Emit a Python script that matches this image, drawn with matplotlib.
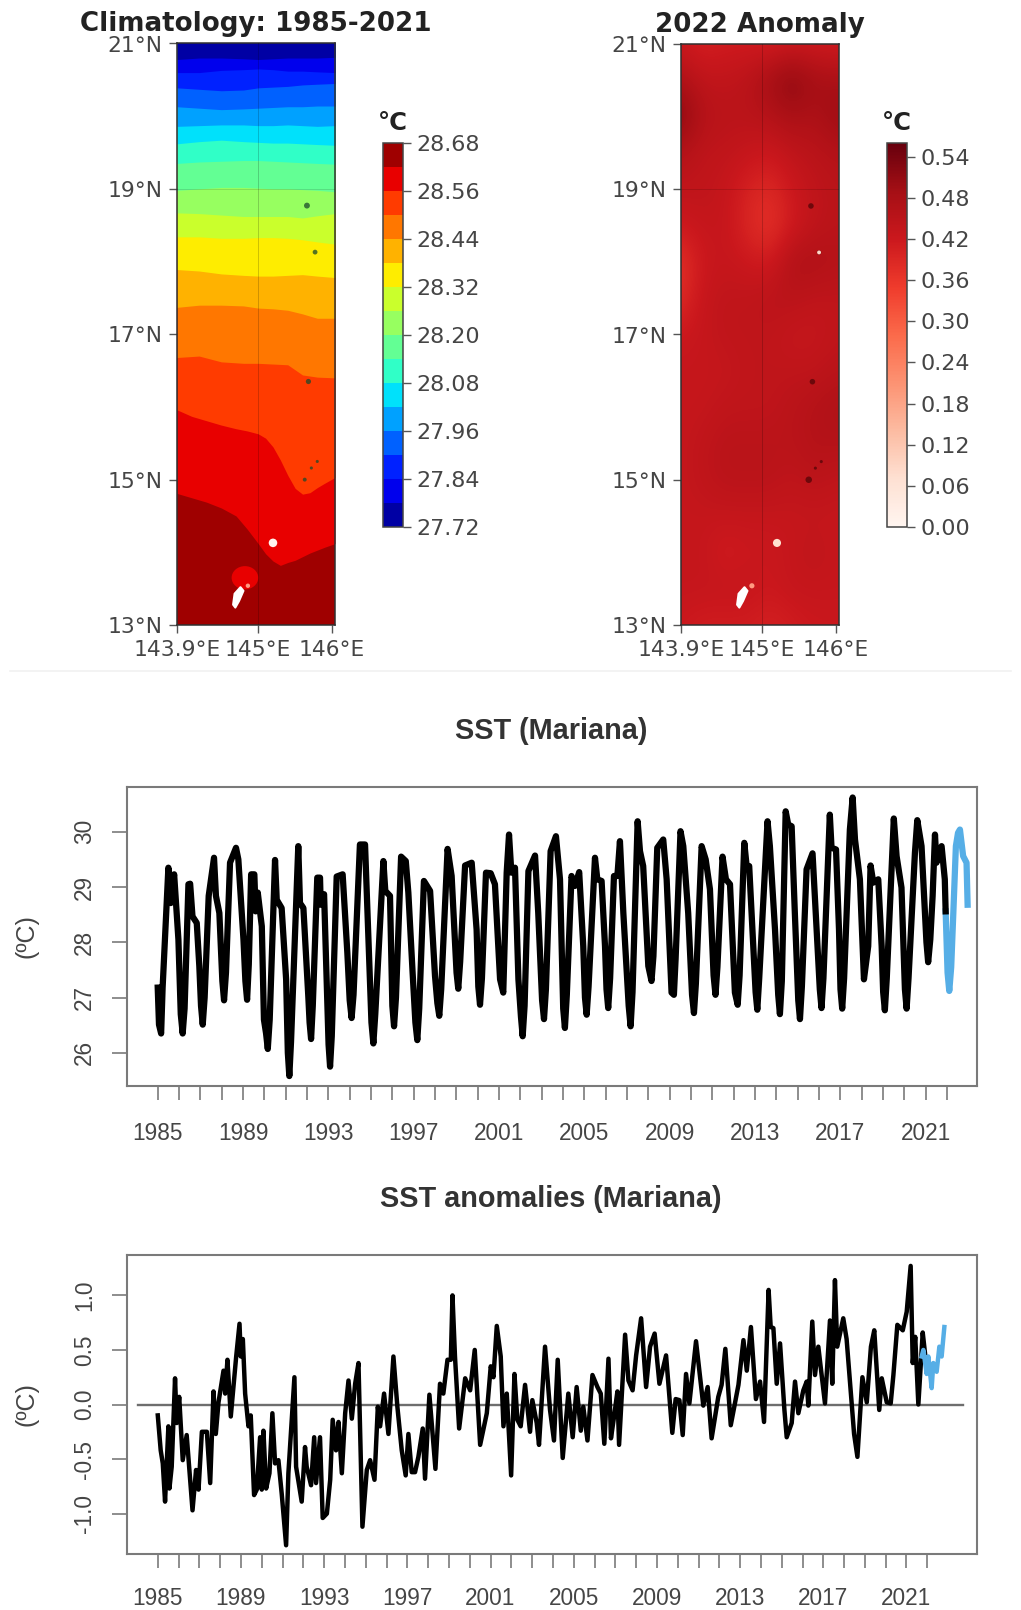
import numpy as np
import matplotlib
matplotlib.use("Agg")
import matplotlib.pyplot as plt
from matplotlib.cm import ScalarMappable
from matplotlib.colors import BoundaryNorm, ListedColormap, Normalize
from matplotlib.lines import Line2D
from matplotlib.patches import Ellipse, Polygon

W, H = 1021, 1610

# --- map data ---
lat_ticks = [13, 15, 17, 19, 21]
lat_labels = ["13°N", "15°N", "17°N", "19°N", "21°N"]
lon_ticks = [143.9, 145, 146]
lon_labels = ["143.9°E", "145°E", "146°E"]

clim_levels = [27.72, 27.78, 27.84, 27.90, 27.96, 28.02, 28.08, 28.14, 28.20,
               28.26, 28.32, 28.38, 28.44, 28.50, 28.56, 28.62, 28.68]
clim_ticks = [27.72, 27.84, 27.96, 28.08, 28.20, 28.32, 28.44, 28.56, 28.68]

# the two warmest isotherms bend a lot, so they get a finer longitude list
warm_iso_lon = [143.9, 144.1, 144.3, 144.5, 144.7, 144.85, 145.0, 145.1, 145.2,
                145.3, 145.4, 145.5, 145.6, 145.7, 145.8, 145.9, 146.04]
iso_2862 = [14.81, 14.75, 14.69, 14.61, 14.50, 14.32, 14.12, 13.98, 13.88,
            13.82, 13.86, 13.89, 13.94, 13.99, 14.03, 14.07, 14.12]
iso_2856 = [15.96, 15.87, 15.81, 15.75, 15.70, 15.67, 15.63, 15.57, 15.45,
            15.27, 15.06, 14.88, 14.80, 14.82, 14.89, 14.95, 15.03]

# latitude of the other isotherms, warmest first, along iso_lon
iso_lon = [143.9, 144.2, 144.5, 144.8, 145.0, 145.2, 145.4, 145.6, 145.8, 146.04]
iso_temp = [28.50, 28.44, 28.38, 28.32, 28.26, 28.20, 28.14,
            28.08, 28.02, 27.96, 27.90, 27.84, 27.78]
iso_lat = [
    [16.68, 16.70, 16.62, 16.60, 16.60, 16.59, 16.58, 16.44, 16.41, 16.40],
    [17.37, 17.40, 17.40, 17.39, 17.36, 17.35, 17.33, 17.28, 17.22, 17.22],
    [17.89, 17.87, 17.83, 17.81, 17.80, 17.80, 17.81, 17.82, 17.80, 17.78],
    [18.34, 18.34, 18.32, 18.32, 18.33, 18.33, 18.32, 18.30, 18.27, 18.24],
    [18.67, 18.66, 18.64, 18.62, 18.62, 18.62, 18.62, 18.60, 18.63, 18.66],
    [18.98, 19.00, 19.02, 19.02, 19.01, 19.00, 19.00, 18.99, 18.98, 18.96],
    [19.35, 19.37, 19.38, 19.39, 19.39, 19.38, 19.37, 19.36, 19.35, 19.34],
    [19.62, 19.65, 19.67, 19.65, 19.64, 19.63, 19.63, 19.62, 19.61, 19.60],
    [19.86, 19.87, 19.88, 19.88, 19.87, 19.87, 19.88, 19.87, 19.86, 19.87],
    [20.13, 20.11, 20.09, 20.10, 20.11, 20.12, 20.13, 20.13, 20.14, 20.14],
    [20.39, 20.37, 20.35, 20.36, 20.39, 20.40, 20.41, 20.43, 20.44, 20.45],
    [20.60, 20.60, 20.63, 20.64, 20.65, 20.64, 20.62, 20.62, 20.61, 20.60],
    [20.78, 20.80, 20.80, 20.79, 20.78, 20.79, 20.80, 20.80, 20.80, 20.81],
]

anom_ticks = [0.00, 0.06, 0.12, 0.18, 0.24, 0.30, 0.36, 0.42, 0.48, 0.54]
anom_lat = [21.0, 20.5, 20.0, 19.5, 19.0, 18.5, 18.0, 17.5, 17.0, 16.5, 16.0,
            15.5, 15.0, 14.5, 14.0, 13.5, 13.0]
anom_lon = [143.9, 144.2, 144.5, 144.8, 145.1, 145.4, 145.7, 146.0]
anom_grid = [
    [.42, .40, .41, .41, .40, .41, .41, .41],
    [.47, .44, .44, .45, .49, .53, .49, .48],
    [.53, .46, .45, .45, .46, .48, .47, .50],
    [.46, .44, .44, .43, .42, .44, .45, .46],
    [.44, .44, .43, .40, .385, .42, .44, .45],
    [.42, .43, .43, .39, .365, .41, .44, .45],
    [.37, .42, .43, .42, .41, .47, .47, .46],
    [.38, .43, .44, .44, .45, .45, .44, .44],
    [.42, .43, .44, .44, .44, .43, .43, .44],
    [.43, .43, .43, .44, .44, .44, .44, .45],
    [.43, .43, .44, .44, .44, .45, .46, .47],
    [.43, .44, .45, .45, .45, .45, .46, .46],
    [.43, .44, .45, .45, .45, .44, .45, .44],
    [.43, .43, .43, .43, .43, .43, .43, .43],
    [.43, .43, .41, .42, .42, .43, .44, .43],
    [.43, .43, .43, .43, .42, .43, .43, .43],
    [.42, .41, .41, .41, .40, .41, .42, .42],
]

# islands: warm patch near Guam, Guam outline, small islands
warm_lon, warm_lat = 144.82, 13.65
guam_lon = [144.66, 144.68, 144.76, 144.80, 144.74, 144.69]
guam_lat = [13.28, 13.43, 13.52, 13.47, 13.33, 13.24]
dark_lon = [145.66, 145.77, 145.68, 145.63, 145.72, 145.80]
dark_lat = [18.77, 18.13, 16.35, 15.00, 15.16, 15.25]
white_lon = [145.20, 144.86]
white_lat = [14.13, 13.54]

# --- time series, turning points ---
sst_years = [
    1985.00, 1985.06, 1985.16, 1985.23, 1985.50, 1985.61, 1985.77, 1985.97,
    1986.08, 1986.17, 1986.26, 1986.44, 1986.52, 1986.63, 1986.83, 1986.95,
    1987.03, 1987.11, 1987.20, 1987.39, 1987.64, 1987.73, 1987.89,
    1988.03, 1988.11, 1988.20, 1988.39, 1988.67, 1988.78, 1989.02,
    1989.11, 1989.19, 1989.27, 1989.38, 1989.53, 1989.59, 1989.69, 1989.88, 1989.98,
    1990.08, 1990.16, 1990.25, 1990.50, 1990.58, 1990.81, 1991.02,
    1991.10, 1991.17, 1991.25, 1991.59, 1991.67, 1991.83, 1992.06,
    1992.12, 1992.19, 1992.27, 1992.48, 1992.61, 1992.64, 1992.80, 1992.95,
    1993.01, 1993.08, 1993.16, 1993.39, 1993.67, 1993.89,
    1994.00, 1994.09, 1994.18, 1994.48, 1994.72, 1994.88,
    1995.02, 1995.11, 1995.20, 1995.58, 1995.67, 1995.89,
    1996.00, 1996.08, 1996.17, 1996.41, 1996.63, 1996.75, 1996.95,
    1997.08, 1997.17, 1997.26, 1997.48, 1997.77, 1998.00,
    1998.11, 1998.20, 1998.29, 1998.59, 1998.78,
    1999.01, 1999.09, 1999.18, 1999.41, 1999.72, 1999.95,
    2000.03, 2000.11, 2000.20, 2000.39, 2000.61, 2000.81, 2001.05, 2001.20, 2001.36,
    2001.47, 2001.58, 2001.75, 2001.91,
    2002.03, 2002.11, 2002.20, 2002.38, 2002.69, 2002.84,
    2003.02, 2003.11, 2003.20, 2003.42, 2003.67, 2003.86,
    2004.01, 2004.09, 2004.18, 2004.40, 2004.56, 2004.76, 2004.95,
    2005.03, 2005.11, 2005.20, 2005.50, 2005.61, 2005.81, 2005.97,
    2006.04, 2006.12, 2006.21, 2006.39, 2006.55, 2006.67, 2006.83,
    2007.08, 2007.17, 2007.26, 2007.50, 2007.61, 2007.76, 2008.00, 2008.15, 2008.24,
    2008.42, 2008.70, 2008.86, 2009.09, 2009.20, 2009.28, 2009.51, 2009.64, 2009.87,
    2010.05, 2010.14, 2010.23, 2010.50, 2010.69, 2010.89,
    2011.06, 2011.15, 2011.24, 2011.48, 2011.64, 2011.83, 2012.06, 2012.19, 2012.28,
    2012.50, 2012.61, 2012.73, 2012.92,
    2013.03, 2013.11, 2013.20, 2013.59, 2013.70, 2013.94,
    2014.09, 2014.17, 2014.26, 2014.44, 2014.56, 2014.72, 2014.87,
    2015.03, 2015.11, 2015.20, 2015.42, 2015.70, 2015.89,
    2016.04, 2016.12, 2016.21, 2016.51, 2016.59, 2016.80, 2016.94,
    2017.01, 2017.09, 2017.18, 2017.45, 2017.58, 2017.69, 2017.92, 2018.11, 2018.31,
    2018.42, 2018.55, 2018.78, 2018.94, 2019.01, 2019.09, 2019.18, 2019.51, 2019.64, 2019.87,
    2020.03, 2020.11, 2020.20, 2020.50, 2020.61, 2020.81,
    2021.04, 2021.12, 2021.22, 2021.33, 2021.44, 2021.51, 2021.75, 2021.90, 2021.94,
]
sst_values = [
    27.18, 26.51, 26.35, 27.18, 29.35, 28.71, 29.23, 28.05,
    26.70, 26.35, 26.80, 29.05, 29.06, 28.47, 28.35, 27.57,
    26.85, 26.51, 27.00, 28.84, 29.53, 28.84, 28.53,
    27.30, 26.95, 27.45, 29.44, 29.71, 29.50, 28.05,
    27.30, 26.96, 27.60, 29.23, 29.23, 28.56, 28.90, 28.29, 26.60,
    26.35, 26.07, 26.60, 29.49, 28.77, 28.62, 27.33,
    26.00, 25.58, 26.20, 29.74, 28.71, 28.62, 27.02,
    26.55, 26.25, 26.85, 29.17, 29.17, 28.68, 28.87, 26.96,
    26.15, 25.75, 26.30, 29.19, 29.23, 27.81,
    26.95, 26.63, 27.05, 29.77, 29.77, 28.05,
    26.55, 26.17, 26.70, 29.47, 28.93, 28.84,
    26.85, 26.48, 27.00, 29.55, 29.47, 28.90, 27.45,
    26.55, 26.23, 26.80, 29.11, 28.93, 27.39,
    26.90, 26.67, 27.15, 29.69, 29.20,
    27.45, 27.16, 27.65, 29.39, 29.44, 28.23,
    27.20, 26.87, 27.35, 29.26, 29.25, 29.05, 27.33, 27.09, 29.26,
    29.95, 29.26, 29.35, 27.33,
    26.65, 26.30, 26.85, 29.29, 29.57, 28.53,
    26.95, 26.61, 27.15, 29.65, 29.92, 29.14,
    26.80, 26.45, 27.05, 29.20, 29.02, 29.27, 27.93,
    27.00, 26.69, 27.20, 29.53, 29.14, 29.11, 27.93,
    27.15, 26.81, 27.35, 29.20, 29.20, 29.83, 28.53,
    26.85, 26.48, 27.10, 30.19, 29.65, 29.38, 27.57, 27.30, 27.75,
    29.71, 29.86, 29.14, 27.09, 27.05, 27.70, 30.01, 29.74, 28.53,
    27.05, 26.72, 27.25, 29.74, 29.50, 28.96,
    27.40, 27.05, 27.55, 29.55, 29.14, 29.05, 27.09, 26.87, 27.40,
    29.80, 29.38, 29.38, 27.93,
    27.10, 26.78, 27.35, 30.19, 29.74, 28.23,
    27.05, 26.70, 27.30, 30.37, 30.13, 30.10, 28.53,
    26.95, 26.61, 27.20, 29.32, 29.61, 28.23,
    27.15, 26.81, 27.35, 30.31, 29.71, 29.68, 28.23,
    27.15, 26.80, 27.35, 30.04, 30.62, 29.86, 29.14, 27.33, 27.93,
    29.39, 29.08, 29.14, 27.93, 27.10, 26.77, 27.35, 30.24, 29.56, 28.99,
    27.15, 26.80, 27.35, 29.62, 30.21, 29.74,
    28.00, 27.64, 28.05, 28.84, 29.95, 29.44, 29.74, 29.14, 28.56,
]
sst22_years = [2021.94, 2022.03, 2022.11, 2022.20, 2022.30, 2022.42, 2022.52, 2022.61, 2022.76, 2022.92, 2022.97]
sst22_values = [28.56, 27.45, 27.12, 27.55, 28.53, 29.74, 29.98, 30.04, 29.56, 29.44, 28.68]

anom_years = [
    1985.00, 1985.14, 1985.24, 1985.35, 1985.51, 1985.56, 1985.67, 1985.83, 1985.91,
    1986.03, 1986.20, 1986.39, 1986.67, 1986.84, 1986.96, 1987.12, 1987.36, 1987.52,
    1987.68, 1987.79, 1987.92, 1988.16, 1988.24, 1988.35, 1988.51, 1988.77, 1988.93,
    1988.99, 1989.09, 1989.20, 1989.36, 1989.47, 1989.63, 1989.76, 1989.92, 1990.00,
    1990.08, 1990.21, 1990.37, 1990.51, 1990.64, 1990.80, 1990.96, 1991.17, 1991.28,
    1991.57, 1991.65, 1991.92, 1992.08, 1992.16, 1992.37, 1992.52, 1992.61, 1992.80,
    1992.93, 1993.13, 1993.29, 1993.41, 1993.57, 1993.69, 1993.85, 1994.01, 1994.17,
    1994.33, 1994.49, 1994.65, 1994.84, 1995.05, 1995.21, 1995.42, 1995.58, 1995.69,
    1995.88, 1996.09, 1996.33, 1996.52, 1996.73, 1996.92, 1997.05, 1997.21, 1997.37,
    1997.53, 1997.74, 1997.85, 1998.06, 1998.35, 1998.57, 1998.73, 1998.93, 1999.09,
    1999.17, 1999.29, 1999.49, 1999.78, 2000.02, 2000.24, 2000.50, 2000.82, 2001.01,
    2001.14, 2001.30, 2001.49, 2001.62, 2001.78, 2001.99, 2002.15, 2002.29, 2002.45,
    2002.66, 2002.90, 2003.01, 2003.22, 2003.33, 2003.62, 2003.86, 2004.05, 2004.23,
    2004.47, 2004.74, 2004.95, 2005.14, 2005.34, 2005.46, 2005.66, 2005.90, 2006.14,
    2006.30, 2006.47, 2006.67, 2006.79, 2006.94, 2007.10, 2007.18, 2007.47, 2007.63,
    2007.83, 2008.00, 2008.24, 2008.48, 2008.67, 2008.89, 2009.12, 2009.44, 2009.55,
    2009.74, 2009.90, 2010.08, 2010.24, 2010.40, 2010.56, 2010.88, 2011.23, 2011.44,
    2011.63, 2011.95, 2012.11, 2012.29, 2012.55, 2012.92, 2013.16, 2013.32, 2013.52,
    2013.76, 2013.96, 2014.15, 2014.37, 2014.47, 2014.60, 2014.76, 2014.92, 2015.13,
    2015.24, 2015.48, 2015.64, 2015.80, 2016.04, 2016.20, 2016.28, 2016.47, 2016.60,
    2016.76, 2017.08, 2017.32, 2017.43, 2017.56, 2017.67, 2017.96, 2018.12, 2018.32,
    2018.48, 2018.64, 2018.88, 2019.09, 2019.29, 2019.45, 2019.69, 2019.81, 2020.05,
    2020.24, 2020.37, 2020.56, 2020.82, 2021.01, 2021.20, 2021.30, 2021.42, 2021.57,
    2021.78, 2021.89,
]
anom_values = [
    -0.10, -0.42, -0.54, -0.89, -0.20, -0.77, -0.57, 0.24, -0.17,
    0.07, -0.51, -0.28, -0.97, -0.60, -0.78, -0.25, -0.25, -0.72,
    0.12, -0.27, 0.02, 0.31, 0.10, 0.41, -0.11, 0.44, 0.74,
    0.44, 0.60, 0.10, -0.20, -0.10, -0.83, -0.78, -0.30, -0.78,
    -0.24, -0.77, -0.63, -0.08, -0.54, -0.51, -0.82, -1.29, -0.63,
    0.25, -0.57, -0.89, -0.39, -0.57, -0.74, -0.30, -0.72, -0.30,
    -1.04, -1.00, -0.69, -0.14, -0.42, -0.16, -0.63, -0.08, 0.22,
    -0.13, 0.19, 0.38, -1.12, -0.60, -0.51, -0.69, -0.02, -0.20,
    0.10, -0.27, 0.44, -0.02, -0.42, -0.65, -0.27, -0.62, -0.62,
    -0.48, -0.22, -0.68, 0.09, -0.59, 0.19, 0.10, 0.41, 0.41,
    1.00, 0.44, -0.22, 0.24, 0.13, 0.50, -0.37, -0.08, 0.35,
    0.25, 0.72, 0.44, -0.20, 0.10, -0.65, 0.28, -0.14, -0.20,
    0.18, -0.25, 0.04, -0.17, -0.37, 0.53, -0.05, -0.33, 0.41,
    -0.49, 0.10, -0.30, 0.16, -0.24, -0.02, -0.33, 0.27, 0.16,
    0.10, -0.36, 0.42, -0.31, -0.11, 0.12, -0.37, 0.64, 0.22,
    0.13, 0.45, 0.79, 0.16, 0.53, 0.65, 0.19, 0.45, 0.19,
    -0.26, 0.05, 0.04, -0.28, 0.28, 0.01, 0.58, -0.01, 0.16,
    -0.31, 0.07, 0.18, 0.51, -0.19, 0.18, 0.59, 0.31, 0.71,
    0.05, 0.21, -0.16, 1.05, 0.71, 0.70, 0.19, 0.56, -0.05,
    -0.30, -0.17, 0.21, -0.08, 0.13, 0.21, -0.01, 0.76, 0.27,
    0.53, 0.01, 0.77, 0.19, 1.14, 0.53, 0.79, 0.60, 0.12,
    -0.27, -0.48, 0.25, 0.02, 0.53, 0.68, -0.05, 0.24, 0.02,
    0.01, 0.27, 0.73, 0.68, 0.85, 1.27, 0.38, 0.62, 0.00,
    0.66, 0.47,
]
anom22_years = [2021.73, 2021.81, 2021.97, 2022.05, 2022.21, 2022.29, 2022.45, 2022.58, 2022.69, 2022.82]
anom22_values = [0.44, 0.50, 0.28, 0.44, 0.15, 0.38, 0.30, 0.53, 0.44, 0.71]

year_ticks = list(range(1985, 2023))
year_labels = [str(y) if (y - 1985) % 4 == 0 else "" for y in year_ticks]
sst_ticks = [26, 27, 28, 29, 30]
anom_line_ticks = [-1.0, -0.5, 0.0, 0.5, 1.0]
anom_line_labels = ["-1.0", "-0.5", "0.0", "0.5", "1.0"]

TEXT = "#454545"
EDGE = "#7a7a7a"
BLUE = "#56aee6"


def px_axes(fig, x0, y0, x1, y1):
    # pixel box, y measured from the top of the picture
    return fig.add_axes([x0 / W, 1 - y1 / H, (x1 - x0) / W, (y1 - y0) / H])


def style_map(ax):
    ax.set_xlim(143.9, 146.04)
    ax.set_ylim(13, 21)
    ax.set_xticks(lon_ticks, lon_labels)
    ax.set_yticks(lat_ticks, lat_labels)
    ax.tick_params(length=5.5, width=1, color="#555555", labelcolor=TEXT,
                   labelsize=15.7, pad=5)
    ax.grid(False)
    ax.axvline(145, color="k", lw=0.6, alpha=0.22, zorder=4)
    ax.axhline(19, color="k", lw=0.6, alpha=0.15, zorder=4)
    for s in ax.spines.values():
        s.set_linewidth(1.1)
        s.set_color("#303030")


def style_bar(cax, fmt):
    cax.minorticks_off()
    cax.tick_params(length=5.5, width=1, color="#555555", labelcolor=TEXT,
                    labelsize=16, pad=4)
    cax.set_title("°C", fontsize=17.5, fontweight="bold", color="#222222", pad=9)
    cax.yaxis.set_major_formatter(plt.FuncFormatter(lambda v, _: fmt % v))
    for s in cax.spines.values():
        s.set_linewidth(1.1)
        s.set_color("#444444")


def style_panel(ax, xlim, ylim, yticks, ylabels, xpad):
    ax.set_xlim(*xlim)
    ax.set_ylim(*ylim)
    ax.set_xticks(year_ticks, year_labels, fontsize=16.3, color=TEXT)
    ax.set_yticks(yticks, ylabels, fontsize=16.3, color=TEXT, rotation=90, va="center")
    ax.tick_params(axis="x", length=10, width=1.2, color=EDGE, pad=xpad)
    ax.tick_params(axis="y", length=10.5, width=1.2, color=EDGE, pad=12)
    ax.set_ylabel("(ºC)", fontsize=18, color=TEXT)
    ax.yaxis.set_label_coords((38 - 127) / 850, 0.5)
    for s in ax.spines.values():
        s.set_linewidth(1.5)
        s.set_color(EDGE)


plt.rcParams["font.family"] = ["DejaVu Sans"]
fig = plt.figure(figsize=(W / 100, H / 100), dpi=100)

# climatology map
ax = px_axes(fig, 177, 43.5, 335, 625)
n_bands = len(clim_levels) - 1
jet = plt.get_cmap("jet")
clim_cmap = ListedColormap([jet((i + 0.5) / n_bands) for i in range(n_bands)])
clim_norm = BoundaryNorm(clim_levels, n_bands)
ax.set_facecolor(clim_cmap(clim_norm(28.65)))
ax.fill_between(warm_iso_lon, iso_2862, 21.2, color=clim_cmap(clim_norm(28.59)), lw=0, zorder=1)
ax.fill_between(warm_iso_lon, iso_2856, 21.2, color=clim_cmap(clim_norm(28.53)), lw=0, zorder=1)
for temp, lat_row in zip(iso_temp, iso_lat):
    ax.fill_between(iso_lon, lat_row, 21.2, color=clim_cmap(clim_norm(temp - 0.03)), lw=0, zorder=1)
ax.add_patch(Ellipse((warm_lon, warm_lat), 0.36, 0.32, color=clim_cmap(clim_norm(28.59)), lw=0, zorder=2))
ax.scatter(dark_lon, dark_lat, s=[18, 12, 14, 8, 5, 5], c="#1c4a2c", alpha=0.75, lw=0, zorder=3)
ax.add_patch(Polygon(np.column_stack([guam_lon, guam_lat]), closed=True, fc="white", ec="white",
                     lw=1.5, joinstyle="round", zorder=3))
ax.scatter(white_lon, white_lat, s=[38, 10], c=["#fff4ee", "#ff9a80"], lw=0, zorder=3)
style_map(ax)
ax.set_title("Climatology: 1985-2021", fontsize=18.8, fontweight="bold", color="#222222", pad=9)

cax = px_axes(fig, 383, 143, 403, 527)
fig.colorbar(ScalarMappable(clim_norm, clim_cmap), cax=cax, ticks=clim_ticks, spacing="proportional")
style_bar(cax, "%.2f")

# anomaly map
ax = px_axes(fig, 681, 44, 839, 625)
half_x = (anom_lon[1] - anom_lon[0]) / 2
half_y = (anom_lat[0] - anom_lat[1]) / 2
anom_norm = Normalize(0, 0.56)
ax.imshow(anom_grid, extent=[anom_lon[0] - half_x, anom_lon[-1] + half_x,
                             anom_lat[-1] - half_y, anom_lat[0] + half_y],
          aspect="auto", cmap="Reds", norm=anom_norm, interpolation="bicubic", zorder=1)
ax.scatter(dark_lon, dark_lat, s=[16, 10, 16, 22, 5, 5], c="#5a0508", alpha=0.8, lw=0, zorder=3)
ax.add_patch(Polygon(np.column_stack([guam_lon, guam_lat]), closed=True, fc="white", ec="white",
                     lw=1.5, joinstyle="round", zorder=3))
ax.scatter(white_lon + [145.77], white_lat + [18.13], s=[34, 14, 8], c=["#ffe2d0", "#ff9a80", "#ffd8c8"], lw=0, zorder=3)
style_map(ax)
ax.set_title("2022 Anomaly", fontsize=18.8, fontweight="bold", color="#222222", pad=9)

cax = px_axes(fig, 887, 143, 907, 527)
fig.colorbar(ScalarMappable(anom_norm, "Reds"), cax=cax, ticks=anom_ticks)
style_bar(cax, "%.2f")

# faint seam between the map picture and the series picture
fig.add_artist(Line2D([0.01, 0.99], [1 - 671 / H, 1 - 671 / H], color="#f1f1f1", lw=1.2))

# SST series
plt.rcParams["font.family"] = ["Liberation Sans"]
ax = px_axes(fig, 127, 787, 977, 1086)
ax.plot(sst22_years, sst22_values, color=BLUE, lw=4.5, solid_joinstyle="round")
ax.plot(sst_years, sst_values, color="k", lw=4.5, solid_joinstyle="round")
style_panel(ax, (1983.56, 2023.41), (25.40, 30.81), sst_ticks, [str(v) for v in sst_ticks], 16)
fig.text(551 / W, 1 - 731 / H, "SST (Mariana)", fontsize=20.8, fontweight="bold",
         color="#333333", ha="center", va="center", family="Liberation Sans")

# anomaly series
ax = px_axes(fig, 127, 1255, 977, 1554)
ax.plot(anom_years, anom_values, color="k", lw=3.2, solid_joinstyle="round")
ax.plot(anom22_years, anom22_values, color=BLUE, lw=3.2, solid_joinstyle="round")
ax.plot([1984.05, 2023.70], [0, 0], color="#6e6e6e", lw=1.7, zorder=1.5)
style_panel(ax, (1983.52, 2024.39), (-1.37, 1.37), anom_line_ticks, anom_line_labels, 14)
fig.text(551 / W, 1 - 1199 / H, "SST anomalies (Mariana)", fontsize=20.8, fontweight="bold",
         color="#333333", ha="center", va="center", family="Liberation Sans")

fig.savefig("out.png", dpi=100)
